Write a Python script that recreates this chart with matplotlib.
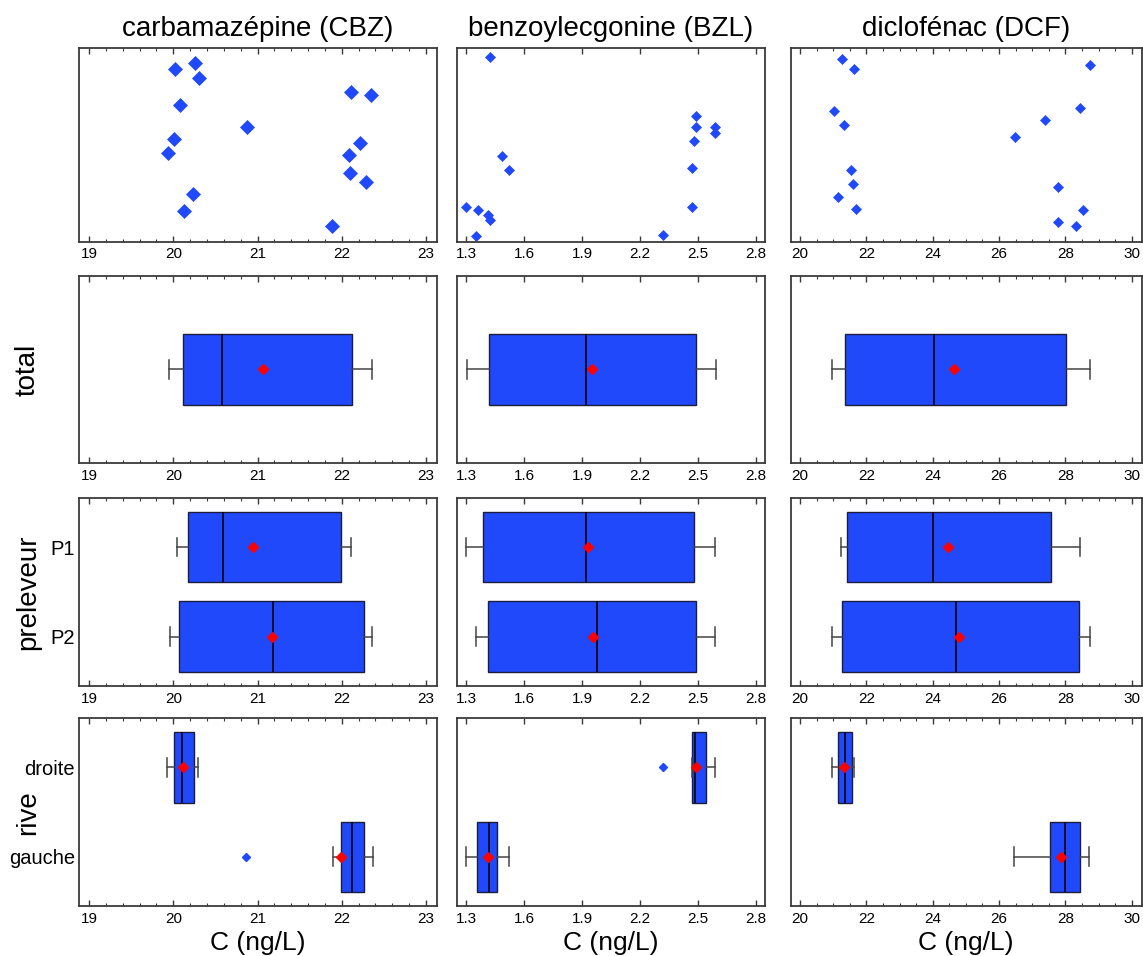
import matplotlib
matplotlib.use("Agg")
import matplotlib.pyplot as plt
from matplotlib.ticker import MultipleLocator, NullLocator

plt.rcParams["font.family"] = ["Liberation Sans", "DejaVu Sans"]

TITLES = ["carbamazépine (CBZ)", "benzoylecgonine (BZL)", "diclofénac (DCF)"]
ROW_LABELS = ["total", "preleveur", "rive"]
PRELEVEUR_LABELS = ["P1", "P2"]
RIVE_LABELS = ["droite", "gauche"]

CBZ_TICKS = [19, 20, 21, 22, 23]
BZL_TICKS = [1.3, 1.6, 1.9, 2.2, 2.5, 2.8]
DCF_TICKS = [20, 22, 24, 26, 28, 30]

# raw points (top row), x = concentration, y = vertical jitter position
CBZ_X = [20.02, 20.26, 20.30, 20.08, 20.87, 20.01, 19.94, 20.23,
         20.13, 22.11, 22.35, 22.22, 22.08, 22.10, 22.29, 21.88]
CBZ_Y = [0.891, 0.922, 0.845, 0.707, 0.595, 0.533, 0.459, 0.248,
         0.159, 0.776, 0.759, 0.510, 0.448, 0.355, 0.309, 0.079]
BZL_X = [1.422, 1.488, 1.524, 1.300, 1.362, 1.412, 1.424, 1.352,
         2.490, 2.490, 2.481, 2.590, 2.590, 2.471, 2.471, 2.321]
BZL_Y = [0.953, 0.443, 0.369, 0.181, 0.164, 0.140, 0.112, 0.031,
         0.648, 0.591, 0.522, 0.591, 0.560, 0.381, 0.181, 0.034]
DCF_X = [21.28, 21.64, 21.01, 21.33, 21.53, 21.59, 21.15, 21.68,
         28.75, 28.45, 27.37, 26.48, 27.78, 28.52, 27.78, 28.32]
DCF_Y = [0.945, 0.891, 0.678, 0.605, 0.372, 0.300, 0.231, 0.171,
         0.916, 0.690, 0.631, 0.543, 0.284, 0.162, 0.103, 0.079]

# box statistics, groups in order: total, P1, P2, droite, gauche
CBZ_WHISLO = [19.95, 20.04, 19.96, 19.93, 21.89]
CBZ_Q1 = [20.12, 20.18, 20.07, 20.01, 21.99]
CBZ_MED = [20.58, 20.59, 21.18, 20.10, 22.12]
CBZ_Q3 = [22.12, 21.99, 22.26, 20.24, 22.26]
CBZ_WHISHI = [22.36, 22.11, 22.36, 20.29, 22.37]
CBZ_MEAN = [21.06, 20.95, 21.17, 20.12, 21.99]
CBZ_FLIERS = [[], [], [], [], [20.86]]

BZL_WHISLO = [1.303, 1.300, 1.349, 2.469, 1.300]
BZL_Q1 = [1.421, 1.387, 1.415, 2.469, 1.359]
BZL_MED = [1.922, 1.921, 1.978, 2.484, 1.418]
BZL_Q3 = [2.488, 2.477, 2.492, 2.542, 1.458]
BZL_WHISHI = [2.591, 2.590, 2.590, 2.590, 1.522]
BZL_MEAN = [1.952, 1.933, 1.959, 2.491, 1.411]
BZL_FLIERS = [[], [], [], [2.321], []]

DCF_WHISLO = [20.95, 21.23, 20.95, 20.95, 26.45]
DCF_Q1 = [21.37, 21.41, 21.28, 21.14, 27.54]
DCF_MED = [24.04, 24.01, 24.69, 21.36, 28.00]
DCF_Q3 = [28.03, 27.57, 28.40, 21.56, 28.45]
DCF_WHISHI = [28.74, 28.44, 28.73, 21.63, 28.71]
DCF_MEAN = [24.63, 24.46, 24.79, 21.34, 27.88]
DCF_FLIERS = [[], [], [], [], []]

BLUE = "#2049fb"
SPINE = "#3a3a3a"

columns = [
    dict(x=CBZ_X, y=CBZ_Y, ms=6.8, stats=(CBZ_WHISLO, CBZ_Q1, CBZ_MED, CBZ_Q3, CBZ_WHISHI, CBZ_MEAN, CBZ_FLIERS),
         xlim=(18.88, 23.13), ticks=CBZ_TICKS, minor=0.2, fmt="{:.0f}"),
    dict(x=BZL_X, y=BZL_Y, ms=4.8, stats=(BZL_WHISLO, BZL_Q1, BZL_MED, BZL_Q3, BZL_WHISHI, BZL_MEAN, BZL_FLIERS),
         xlim=(1.253, 2.847), ticks=BZL_TICKS, minor=None, fmt="{:.1f}"),
    dict(x=DCF_X, y=DCF_Y, ms=5.4, stats=(DCF_WHISLO, DCF_Q1, DCF_MED, DCF_Q3, DCF_WHISHI, DCF_MEAN, DCF_FLIERS),
         xlim=(19.72, 30.3), ticks=DCF_TICKS, minor=0.5, fmt="{:.0f}"),
]

col_left = [0.0691, 0.3998, 0.6918]
col_width = [0.3132, 0.2695, 0.3071]
row_bottom = [0.7472, 0.5154, 0.2824, 0.0523]
row_height = [0.2023, 0.1962, 0.1970, 0.1963]

fig = plt.figure(figsize=(11.43, 9.56), dpi=100)


def style_axes(ax, col):
    ax.set_xlim(col["xlim"])
    if col["minor"]:
        ax.xaxis.set_minor_locator(MultipleLocator(col["minor"]))
    ax.set_xticks(col["ticks"])
    ax.set_xticklabels([col["fmt"].format(t) for t in col["ticks"]])
    ax.tick_params(axis="x", which="both", direction="in", top=True, bottom=True,
                   color=SPINE, labelsize=11, pad=4)
    ax.tick_params(axis="x", which="major", length=4.5, width=1)
    ax.tick_params(axis="x", which="minor", length=2.5, width=0.8)
    ax.tick_params(axis="y", length=0, labelsize=14.5, pad=3)
    for sp in ax.spines.values():
        sp.set_color(SPINE)
        sp.set_linewidth(1.3)


def make_stats(stats, idx):
    whislo, q1, med, q3, whishi, mean, fliers = stats
    return [dict(whislo=whislo[i], q1=q1[i], med=med[i], q3=q3[i], whishi=whishi[i],
                 mean=mean[i], fliers=fliers[i]) for i in idx]


for c, col in enumerate(columns):
    # top row: raw points
    ax = fig.add_axes([col_left[c], row_bottom[0], col_width[c], row_height[0]])
    ax.plot(col["x"], col["y"], linestyle="none", marker="D", ms=col["ms"],
            color=BLUE, markeredgecolor=BLUE, markeredgewidth=0.5)
    ax.set_ylim(0, 1)
    ax.yaxis.set_major_locator(NullLocator())
    style_axes(ax, col)
    ax.set_title(TITLES[c], fontsize=20, pad=9)

    # box rows
    for r, idx in enumerate([[0], [1, 2], [3, 4]]):
        ax = fig.add_axes([col_left[c], row_bottom[r + 1], col_width[c], row_height[r + 1]])
        pos = list(range(1, len(idx) + 1))
        ax.bxp(make_stats(col["stats"], idx), positions=pos, widths=0.79,
               orientation="horizontal", patch_artist=True, showmeans=True,
               capwidths=0.21,
               boxprops=dict(facecolor=BLUE, edgecolor="#1c1c3c", linewidth=1),
               medianprops=dict(color="#0d0d2a", linewidth=1.4),
               whiskerprops=dict(color="#444444", linewidth=1.1),
               capprops=dict(color="#444444", linewidth=1.1),
               meanprops=dict(marker="D", markerfacecolor="red", markeredgecolor="red", markersize=5.5),
               flierprops=dict(marker="D", markerfacecolor=BLUE, markeredgecolor=BLUE, markersize=4.5))
        if len(idx) == 1:
            ax.set_ylim(2.05, -0.05)
            ax.set_yticks([])
        else:
            ax.set_ylim(2.55, 0.45)
            if c == 0:
                ax.set_yticks(pos)
                ax.set_yticklabels(PRELEVEUR_LABELS if r == 1 else RIVE_LABELS)
            else:
                ax.set_yticks([])
        style_axes(ax, col)
        if r == 2:
            ax.set_xlabel("C (ng/L)", fontsize=19, labelpad=4)

for r, label in enumerate(ROW_LABELS):
    yc = row_bottom[r + 1] + row_height[r + 1] / 2
    fig.text(28 / 1143, yc, label, rotation=90, ha="center", va="center", fontsize=20)

fig.savefig("out.png", dpi=100, facecolor="white")
